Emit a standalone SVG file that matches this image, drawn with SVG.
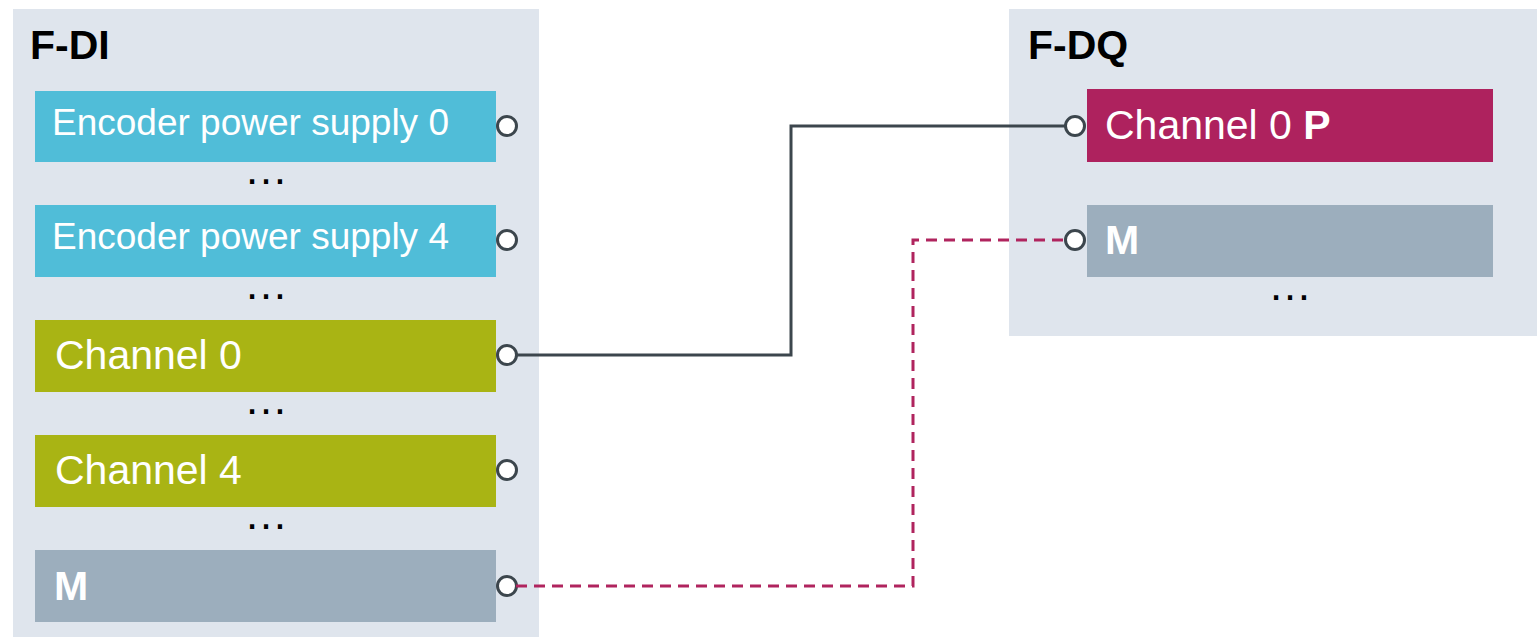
<svg xmlns="http://www.w3.org/2000/svg" width="1537" height="638" viewBox="0 0 1537 638">
<style>
.panel{fill:#dfe5ed}
.title{font-family:"Liberation Sans",Arial,sans-serif;font-weight:bold;font-size:41px;fill:#000}
.lbl{font-family:"Liberation Sans",Arial,sans-serif;font-size:37px;fill:#fff}
.lbl2{font-family:"Liberation Sans",Arial,sans-serif;font-size:41px;fill:#fff}
.b{font-weight:bold}
.dots{font-family:"Liberation Sans",Arial,sans-serif;font-size:44px;fill:#000;text-anchor:middle}
.port{fill:#fff;stroke:#3c464d;stroke-width:3}
.cyan{fill:#50bdd8}
.olive{fill:#a9b414}
.gray{fill:#9caebd}
.mag{fill:#ae225e}
</style>
<g id="F-DI">
<rect class="panel" x="13" y="9" width="526" height="628"/>
<text class="title" x="30" y="59">F-DI</text>
<g id="enc0"><rect class="cyan" x="35" y="91" width="461" height="71"/><text class="lbl" x="52" y="135">Encoder power supply 0</text><circle class="port" cx="507" cy="126" r="9.5"/></g>
<text class="dots" x="266" y="184">…</text>
<g id="enc4"><rect class="cyan" x="35" y="205" width="461" height="72"/><text class="lbl" x="52" y="249">Encoder power supply 4</text><circle class="port" cx="507" cy="240" r="9.5"/></g>
<text class="dots" x="266" y="299">…</text>
<g id="ch0"><rect class="olive" x="35" y="320" width="461" height="72"/><text class="lbl2" x="55" y="369">Channel 0</text><circle class="port" cx="507" cy="355" r="9.5"/></g>
<text class="dots" x="266" y="414">…</text>
<g id="ch4"><rect class="olive" x="35" y="435" width="461" height="72"/><text class="lbl2" x="55" y="484">Channel 4</text><circle class="port" cx="507" cy="470" r="9.5"/></g>
<text class="dots" x="266" y="529">…</text>
<g id="mdi"><rect class="gray" x="35" y="550" width="461" height="72"/><text class="lbl2 b" x="54" y="600">M</text><circle class="port" cx="507" cy="586" r="9.5"/></g>
</g>
<g id="F-DQ">
<rect class="panel" x="1009" y="9" width="528" height="327"/>
<text class="title" x="1028" y="59">F-DQ</text>
<g id="ch0p"><rect class="mag" x="1087" y="89" width="406" height="73"/><text class="lbl2" x="1105" y="139">Channel 0 <tspan class="b">P</tspan></text></g>
<g id="mdq"><rect class="gray" x="1087" y="205" width="406" height="72"/><text class="lbl2 b" x="1105" y="254">M</text></g>
<text class="dots" x="1290" y="300">…</text>
</g>
<g id="connectors" fill="none" stroke-width="3">
<path d="M516 355 H791 V126 H1066" stroke="#3c464d"/>
<path d="M516 586 H913 V240 H1066" stroke="#b0245e" stroke-dasharray="11 7"/>
</g>
<g id="ports-dq">
<circle class="port" cx="1075" cy="126" r="9.5"/>
<circle class="port" cx="1075" cy="240" r="9.5"/>
</g>
</svg>
